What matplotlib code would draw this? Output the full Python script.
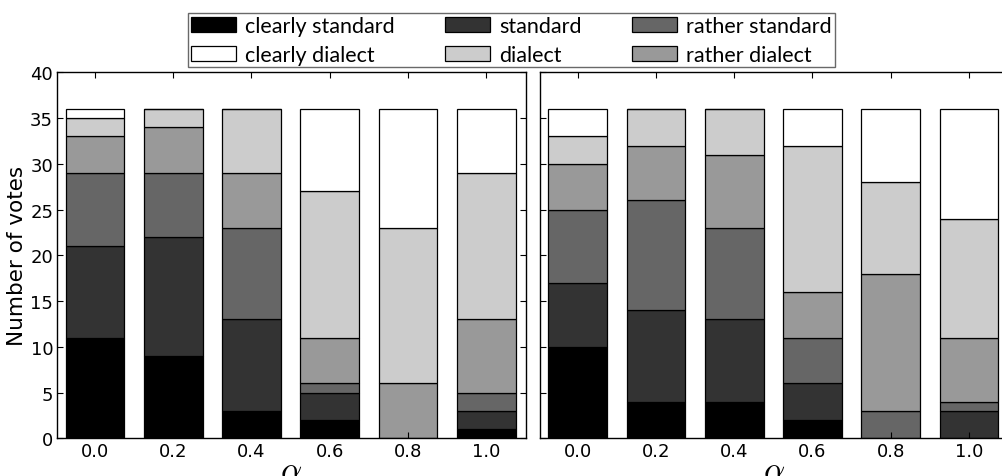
import matplotlib
matplotlib.use("Agg")
import matplotlib.pyplot as plt
import numpy as np

# ---- data ----
alphas = ["0.0", "0.2", "0.4", "0.6", "0.8", "1.0"]
categories = ["clearly standard", "standard", "rather standard",
              "rather dialect", "dialect", "clearly dialect"]
colors = ["#000000", "#333333", "#666666", "#999999", "#cccccc", "#ffffff"]

# votes per category (bottom -> top), one list per alpha value
left_clearly_standard = [11, 9, 3, 2, 0, 1]
left_standard = [10, 13, 10, 3, 0, 2]
left_rather_standard = [8, 7, 10, 1, 0, 2]
left_rather_dialect = [4, 5, 6, 5, 6, 8]
left_dialect = [2, 2, 7, 16, 17, 16]
left_clearly_dialect = [1, 0, 0, 9, 13, 7]

right_clearly_standard = [10, 4, 4, 2, 0, 0]
right_standard = [7, 10, 9, 4, 0, 3]
right_rather_standard = [8, 12, 10, 5, 3, 1]
right_rather_dialect = [5, 6, 8, 5, 15, 7]
right_dialect = [3, 4, 5, 16, 10, 13]
right_clearly_dialect = [3, 0, 0, 4, 8, 12]

left_series = [left_clearly_standard, left_standard, left_rather_standard,
               left_rather_dialect, left_dialect, left_clearly_dialect]
right_series = [right_clearly_standard, right_standard, right_rather_standard,
                right_rather_dialect, right_dialect, right_clearly_dialect]

plt.rcParams["mathtext.fontset"] = "cm"

W, H = 1002, 477
fig = plt.figure(figsize=(W / 100, H / 100), dpi=100)

def px_axes(x0, x1, ytop, ybot):
    return fig.add_axes([x0 / W, 1 - ybot / H, (x1 - x0) / W, (ybot - ytop) / H])

unit = 78.3
axL = px_axes(57.3, 57.3 + 5.98 * unit, 73.3, 439.3)
axR = px_axes(540.0, 540.0 + 5.98 * unit, 73.3, 439.3)

x = np.arange(len(alphas))
handles = []
for ax, series in [(axL, left_series), (axR, right_series)]:
    bottom = np.zeros(len(alphas))
    for vals, col, lab in zip(series, colors, categories):
        vals = np.array(vals, dtype=float)
        b = ax.bar(x, vals, width=0.75, bottom=bottom, color=col,
                   edgecolor="black", linewidth=0.9, label=lab)
        if ax is axL:
            handles.append(b)
        bottom += vals
    ax.set_xlim(-0.48, 5.5)
    ax.set_ylim(0, 40)
    ax.set_xticks(x)
    ax.set_xticklabels(alphas, fontsize=13)
    ax.set_yticks(np.arange(0, 41, 5))
    ax.tick_params(direction="in", top=True, right=True, length=4, width=0.8,
                   labelsize=13, pad=3)
    for s in ax.spines.values():
        s.set_linewidth(1.0)
        s.set_color("black")
    ax.set_xlabel(r"$\alpha$", fontsize=24, labelpad=-5)

axR.set_yticklabels([])
axL.set_ylabel("Number of votes", fontsize=15.5, labelpad=2)

# legend: column-wise fill -> row 1: clearly standard, standard, rather standard
order = [0, 5, 1, 4, 2, 3]
leg = fig.legend([handles[i] for i in order], [categories[i] for i in order],
                 ncol=3, loc="upper left", bbox_to_anchor=(188 / W, 1 - 14 / H),
                 bbox_transform=fig.transFigure, frameon=True, fancybox=False,
                 prop={"family": "Lato", "size": 15.5}, handlelength=2.1,
                 handleheight=0.7, handletextpad=0.45, columnspacing=2.3,
                 labelspacing=0.42, borderpad=0.12, borderaxespad=0)
leg.get_frame().set_edgecolor("#444444")
leg.get_frame().set_linewidth(1.0)

fig.savefig("out.png", dpi=100)
